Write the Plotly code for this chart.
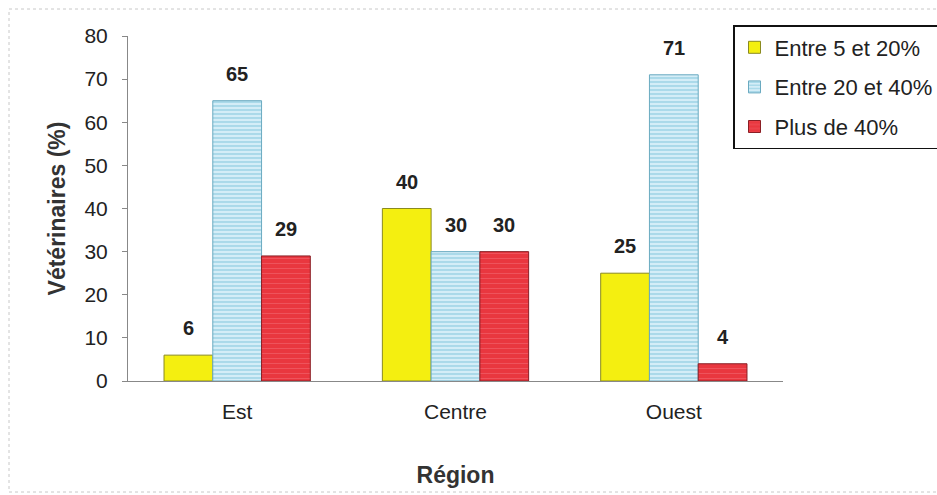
import plotly.graph_objects as go

regions = ["Est", "Centre", "Ouest"]
series_names = ["Entre 5 et 20%", "Entre 20 et 40%", "Plus de 40%"]
v_5_20 = [6, 40, 25]
v_20_40 = [65, 30, 71]
v_40p = [29, 30, 4]
y_ticks = [0, 10, 20, 30, 40, 50, 60, 70, 80]

W, H = 937, 495
L, R, T, B = 128, 154, 36, 114
pw, ph = W - L - R, H - T - B
BARGAP = 0.33
bar_px = pw / len(regions) * (1 - BARGAP) / 3

def px_x(p):
    return (p - L) / pw

def px_y(p):
    return (H - B - p) / ph

styles = [
    dict(color="#f4ef10", pattern=None, line="#8a8a20"),
    dict(color="#d4edf7", pattern=dict(shape="-", fgcolor="#4aaccc", bgcolor="#d4edf7", size=4, solidity=0.3), line="#6aaac0"),
    dict(color="#e9373f", pattern=dict(shape="-", fgcolor="#f3707a", bgcolor="#e9373f", size=5, solidity=0.2), line="#8a1f25"),
]

fig = go.Figure()
all_vals = [v_5_20, v_20_40, v_40p]
for i, (name, vals) in enumerate(zip(series_names, all_vals)):
    st = styles[i]
    marker = dict(color=st["color"], line=dict(color=st["line"], width=1))
    if st["pattern"]:
        marker["pattern"] = st["pattern"]
    fig.add_trace(go.Bar(
        x=regions, y=vals, name=name, marker=marker,
        legendgroup=f"g{i}", offsetgroup=str(i),
    ))
    for r, v in zip(regions, vals):
        fig.add_annotation(
            x=r, y=v, xref="x", yref="y", text=f"<b>{v}</b>",
            showarrow=False, yanchor="bottom", xanchor="center",
            xshift=(i - 1) * bar_px, yshift=14,
            font=dict(family="Liberation Sans, Arial", size=20, color="#222222"),
        )

fig.update_layout(
    width=W, height=H,
    margin=dict(l=L, r=R, t=T, b=B, autoexpand=False),
    paper_bgcolor="white", plot_bgcolor="white",
    barmode="group", bargap=BARGAP, bargroupgap=0,
    font=dict(family="Liberation Sans, Arial", size=21, color="#222222"),
    legend=dict(
        x=px_x(733), y=px_y(25), xanchor="left", yanchor="top",
        bordercolor="#111111", borderwidth=1.5, bgcolor="white",
        font=dict(size=22, color="#222222"),
        tracegroupgap=8, traceorder="grouped",
        itemwidth=30,
    ),
    xaxis=dict(
        showline=True, linecolor="#888888", linewidth=1,
        ticks="", ticklabelstandoff=12,
        tickfont=dict(size=21),
        title=dict(text="<b>Région</b>", font=dict(size=23, color="#333333"), standoff=44),
        showgrid=False,
    ),
    yaxis=dict(
        range=[0, 80], tickvals=y_ticks, showgrid=False, zeroline=False,
        showline=True, linecolor="#888888", linewidth=1,
        ticks="outside", ticklen=5, tickcolor="#888888",
        ticklabelstandoff=10, tickfont=dict(size=21),
        title=dict(text="<b>Vétérinaires (%)</b>", font=dict(size=23, color="#333333"), standoff=12),
    ),
)

# faint outer frame of the scanned figure
fig.add_shape(type="rect", xref="paper", yref="paper",
              x0=px_x(9), x1=px_x(990), y0=px_y(492), y1=px_y(9),
              line=dict(color="#c8c8c8", width=1, dash="dot"), layer="below")

fig.write_html("out.html")
